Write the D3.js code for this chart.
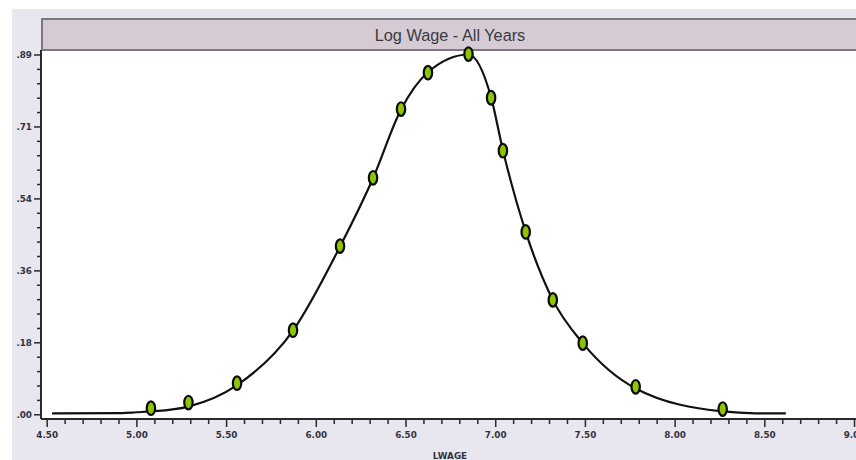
<!DOCTYPE html>
<html>
<head>
<meta charset="utf-8">
<script src="https://cdn.jsdelivr.net/npm/d3@7"></script>
<style>
  html, body { margin: 0; padding: 0; background: #ffffff; }
  svg { display: block; }
</style>
</head>
<body>
<div id="chart"></div>
<script>
// ---- Data ----
const title = "Log Wage - All Years";
const xAxisTitle = "LWAGE";

// density curve (x = log wage, y = density)
const curveX = [4.53, 4.92, 5.00, 5.081, 5.290, 5.561, 5.873, 6.135, 6.319, 6.475, 6.625, 6.851, 6.977, 7.043, 7.170, 7.321, 7.488, 7.783, 8.268, 8.45, 8.62];
const curveY = [0.0025, 0.003, 0.005, 0.007, 0.019, 0.072, 0.207, 0.415, 0.584, 0.754, 0.846, 0.890, 0.784, 0.653, 0.451, 0.283, 0.176, 0.064, 0.007, 0.0025, 0.0025];

// plotted markers
const markerX = [5.081, 5.290, 5.561, 5.873, 6.135, 6.319, 6.475, 6.625, 6.851, 6.977, 7.043, 7.170, 7.321, 7.488, 7.783, 8.268];
const markerY = [0.015, 0.029, 0.077, 0.208, 0.416, 0.585, 0.755, 0.845, 0.891, 0.783, 0.652, 0.451, 0.283, 0.176, 0.068, 0.013];

// axes ticks
const xTickValues = [4.5, 5.0, 5.5, 6.0, 6.5, 7.0, 7.5, 8.0, 8.5, 9.0];
const xTickLabels = ["4.50", "5.00", "5.50", "6.00", "6.50", "7.00", "7.50", "8.00", "8.50", "9.00"];
const yTickValues = [0, 0.178, 0.356, 0.534, 0.712, 0.89];
const yTickLabels = [".00", ".18", ".36", ".54", ".71", ".89"];

// ---- Layout ----
const W = 856, H = 460;
const plotL = 41, plotR = 856, plotT = 50, plotB = 419;

const svg = d3.select("#chart").append("svg")
  .attr("width", W).attr("height", H);

// outer panel background
svg.append("rect").attr("x", 12).attr("y", 9).attr("width", W - 12).attr("height", H - 9)
  .attr("fill", "#e8e6ee");

// title band
svg.append("rect").attr("x", 42).attr("y", 19).attr("width", W - 42 + 5).attr("height", 31)
  .attr("fill", "#d6cbd4").attr("stroke", "#7a7a7e").attr("stroke-width", 2);
svg.append("text").attr("x", 450).attr("y", 40.5)
  .attr("text-anchor", "middle")
  .attr("font-family", "'Liberation Sans', Arial, sans-serif")
  .attr("font-size", 16.3).attr("fill", "#3a3a3e")
  .text(title);

// plot area
svg.append("rect").attr("x", plotL).attr("y", plotT + 1).attr("width", plotR - plotL).attr("height", plotB - plotT - 1)
  .attr("fill", "#ffffff");

// scales
const x = d3.scaleLinear().domain([4.4682, 9.0111]).range([plotL, plotR]);
const y = d3.scaleLinear().domain([-0.01166, 0.9011]).range([plotB, plotT]);

const labelFont = "'DejaVu Sans', Verdana, sans-serif";
const labelColor = "#33333f";

// x axis (major + minor ticks)
const xMinor = d3.range(45, 91).map(d => d / 10).filter(d => Math.abs(d * 2 - Math.round(d * 2)) > 1e-6);
const xAxisMinor = d3.axisBottom(x).tickValues(xMinor).tickSize(5).tickFormat("");
const xAxisMajor = d3.axisBottom(x).tickValues(xTickValues).tickSize(8).tickPadding(5)
  .tickFormat((d, i) => xTickLabels[i]);

const gxMinor = svg.append("g").attr("transform", `translate(0,${plotB})`).call(xAxisMinor);
const gx = svg.append("g").attr("transform", `translate(0,${plotB})`).call(xAxisMajor);
[gxMinor, gx].forEach(g => {
  g.select(".domain").remove();
  g.selectAll(".tick line").attr("stroke", "#2a2a2a").attr("stroke-width", 1.5);
});
gx.selectAll(".tick text")
  .attr("font-family", labelFont).attr("font-weight", "bold")
  .attr("font-size", 8.8).attr("fill", labelColor);

// y axis (major + minor ticks)
const yMinor = d3.range(0, 26).map(i => i * 0.0356).filter((d, i) => i % 5 !== 0);
const yAxisMinor = d3.axisLeft(y).tickValues(yMinor).tickSize(4).tickFormat("");
const yAxisMajor = d3.axisLeft(y).tickValues(yTickValues).tickSize(7).tickPadding(2)
  .tickFormat((d, i) => yTickLabels[i]);
const gyMinor = svg.append("g").attr("transform", `translate(${plotL},0)`).call(yAxisMinor);
const gy = svg.append("g").attr("transform", `translate(${plotL},0)`).call(yAxisMajor);
[gyMinor, gy].forEach(g => {
  g.select(".domain").remove();
  g.selectAll(".tick line").attr("stroke", "#2a2a2a").attr("stroke-width", 1.5);
});
gy.selectAll(".tick text")
  .attr("font-family", labelFont).attr("font-weight", "bold")
  .attr("font-size", 8.8).attr("fill", labelColor);

// axis lines
svg.append("line").attr("x1", plotL).attr("x2", plotR).attr("y1", plotB).attr("y2", plotB)
  .attr("stroke", "#2a2a2a").attr("stroke-width", 2);
svg.append("line").attr("x1", plotL).attr("x2", plotL).attr("y1", plotT).attr("y2", plotB)
  .attr("stroke", "#2a2a2a").attr("stroke-width", 2);

// x axis title
svg.append("text").attr("x", 450).attr("y", 458.5)
  .attr("text-anchor", "middle")
  .attr("font-family", labelFont).attr("font-weight", "bold")
  .attr("font-size", 8.8).attr("fill", labelColor)
  .text(xAxisTitle);

// density curve
const curvePts = curveX.map((d, i) => [d, curveY[i]]);
const line = d3.line().x(d => x(d[0])).y(d => y(d[1])).curve(d3.curveMonotoneX);
svg.append("path").datum(curvePts)
  .attr("d", line)
  .attr("fill", "none").attr("stroke", "#111111").attr("stroke-width", 2.2);

// markers
const markerPts = markerX.map((d, i) => [d, markerY[i]]);
svg.append("g").selectAll("ellipse").data(markerPts).join("ellipse")
  .attr("cx", d => x(d[0])).attr("cy", d => y(d[1]))
  .attr("rx", 4.2).attr("ry", 6.8)
  .attr("fill", "#8ec400").attr("stroke", "#0a0a0a").attr("stroke-width", 2.2);
</script>
</body>
</html>
